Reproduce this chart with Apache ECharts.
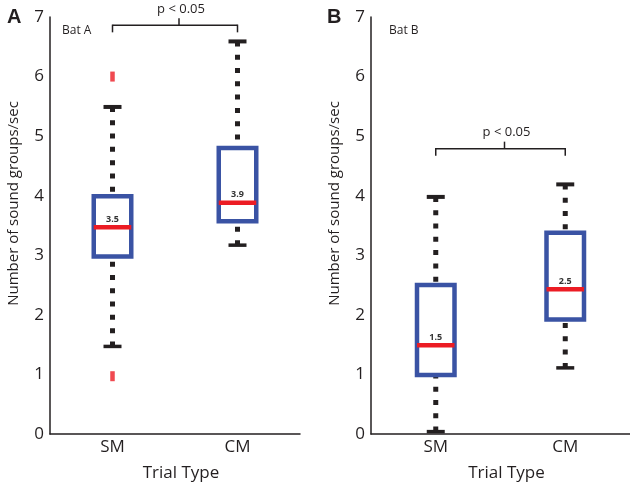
<!DOCTYPE html>
<html><head><meta charset="utf-8">
<script src="https://cdn.jsdelivr.net/npm/echarts@6/dist/echarts.min.js"></script>
<style>html,body{margin:0;padding:0;background:#fff}#c{width:630px;height:485px}</style>
</head><body><div id="c"></div>
<script>
// ---- data ----
const categories = ['SM', 'CM'];
const yMin = 0, yMax = 7, yStep = 1;
// Bat A
const batA_low = [1.47, 3.17];
const batA_q1 = [2.98, 3.57];
const batA_median = [3.47, 3.88];
const batA_q3 = [3.99, 4.80];
const batA_high = [5.49, 6.59];
const batA_medianLabels = ['3.5', '3.9'];
const batA_outlierCat = [0, 0];
const batA_outlierVal = [6.0, 0.97];
const batA_sig = [0, 1, 6.86];
// Bat B
const batB_low = [0.04, 1.11];
const batB_q1 = [0.99, 1.92];
const batB_median = [1.49, 2.43];
const batB_q3 = [2.50, 3.38];
const batB_high = [3.98, 4.19];
const batB_medianLabels = ['1.5', '2.5'];
const batB_sig = [0, 1, 4.79];
const sigLabel = 'p < 0.05';
const panelLabels = ['A', 'B'];
const batNames = ['Bat A', 'Bat B'];
const yName = 'Number of sound groups/sec';
const xName = 'Trial Type';

// ---- styles ----
const INK = '#231f20';
const BLUE = '#3a53a4';
const RED = '#ec1c24';
const FONT = 'Open Sans';

function boxRender(labels) {
  return function (params, api) {
    const x = api.value(0);
    const pLow = api.coord([x, api.value(1)]);
    const pQ1 = api.coord([x, api.value(2)]);
    const pMed = api.coord([x, api.value(3)]);
    const pQ3 = api.coord([x, api.value(4)]);
    const pHigh = api.coord([x, api.value(5)]);
    const cx = pMed[0];
    const boxW = 37.5, capW = 18;
    const dash = { stroke: INK, lineWidth: 5, lineDash: [5, 8.3], lineCap: 'butt' };
    return {
      type: 'group',
      children: [
        { type: 'line', shape: { x1: cx, y1: pHigh[1], x2: cx, y2: pQ3[1] }, style: dash },
        { type: 'line', shape: { x1: cx, y1: pLow[1], x2: cx, y2: pQ1[1] }, style: dash },
        { type: 'line', shape: { x1: cx - capW / 2, y1: pHigh[1], x2: cx + capW / 2, y2: pHigh[1] }, style: { stroke: INK, lineWidth: 4 } },
        { type: 'line', shape: { x1: cx - capW / 2, y1: pLow[1], x2: cx + capW / 2, y2: pLow[1] }, style: { stroke: INK, lineWidth: 3.5 } },
        { type: 'rect', shape: { x: cx - boxW / 2, y: pQ3[1], width: boxW, height: pQ1[1] - pQ3[1] }, style: { fill: '#fff', stroke: BLUE, lineWidth: 4.5 } },
        { type: 'line', shape: { x1: cx - boxW / 2, y1: pMed[1], x2: cx + boxW / 2, y2: pMed[1] }, style: { stroke: RED, lineWidth: 4.5 } },
        { type: 'text', x: cx, y: pMed[1] - 8, style: { text: labels[params.dataIndex], fill: '#333', font: 'bold 9px "' + FONT + '"', align: 'center', verticalAlign: 'middle' } }
      ]
    };
  };
}

function sigRender(params, api) {
  const a = api.coord([api.value(0), api.value(2)]);
  const b = api.coord([api.value(1), api.value(2)]);
  const y = a[1];
  const mid = (a[0] + b[0]) / 2 + 4;
  const st = { stroke: INK, lineWidth: 1.5 };
  return {
    type: 'group',
    children: [
      { type: 'line', shape: { x1: a[0], y1: y, x2: b[0], y2: y }, style: st },
      { type: 'line', shape: { x1: a[0], y1: y - 0.75, x2: a[0], y2: y + 7 }, style: st },
      { type: 'line', shape: { x1: b[0], y1: y - 0.75, x2: b[0], y2: y + 7 }, style: st },
      { type: 'line', shape: { x1: mid, y1: y, x2: mid, y2: y - 7 }, style: st },
      { type: 'text', x: mid + 2, y: y - 16, style: { text: sigLabel, fill: INK, font: '13px "' + FONT + '"', align: 'center', verticalAlign: 'middle' } }
    ]
  };
}

function buildBox(low, q1, med, q3, high) {
  return categories.map((c, i) => [i, low[i], q1[i], med[i], q3[i], high[i]]);
}

function yAxis(idx) {
  return {
    type: 'value', gridIndex: idx, min: yMin, max: yMax, interval: yStep,
    name: yName, nameLocation: 'middle', nameGap: 29,
    nameTextStyle: { fontFamily: FONT, fontSize: 15, color: INK, padding: [0, 0, 0, 44] },
    axisLine: { show: true, lineStyle: { color: INK, width: 1.5 } },
    axisTick: { show: false }, splitLine: { show: false },
    axisLabel: { fontFamily: FONT, fontSize: 17, color: INK, margin: 6 }
  };
}
function xAxis(idx) {
  return {
    type: 'category', gridIndex: idx, data: categories, boundaryGap: true,
    name: xName, nameLocation: 'middle', nameGap: 31,
    nameTextStyle: { fontFamily: FONT, fontSize: 17, color: INK, padding: [0, 0, 0, 12] },
    axisLine: { show: true, lineStyle: { color: INK, width: 1.5 } },
    axisTick: { show: false }, splitLine: { show: false },
    axisLabel: { fontFamily: FONT, fontSize: 17, color: INK, margin: 5 }
  };
}

const chart = echarts.init(document.getElementById('c'), null, { renderer: 'canvas' });
chart.setOption({
  animation: false,
  backgroundColor: '#fff',
  title: [
    { text: panelLabels[0], left: 2, top: 2, textStyle: { fontFamily: 'Liberation Sans', fontWeight: 'bold', fontSize: 20, color: INK } },
    { text: panelLabels[1], left: 322, top: 2, textStyle: { fontFamily: 'Liberation Sans', fontWeight: 'bold', fontSize: 20, color: INK } },
    { text: batNames[0], left: 57, top: 20, textStyle: { fontFamily: FONT, fontWeight: 'normal', fontSize: 12, color: INK } },
    { text: batNames[1], left: 384, top: 20, textStyle: { fontFamily: FONT, fontWeight: 'normal', fontSize: 12, color: INK } }
  ],
  grid: [
    { left: 50, top: 17, width: 250, height: 417, containLabel: false, outerBoundsMode: 'none' },
    { left: 371, top: 17, width: 259, height: 417, containLabel: false, outerBoundsMode: 'none' }
  ],
  xAxis: [xAxis(0), xAxis(1)],
  yAxis: [yAxis(0), yAxis(1)],
  series: [
    { type: 'custom', xAxisIndex: 0, yAxisIndex: 0, renderItem: boxRender(batA_medianLabels),
      encode: { x: 0, y: [1, 2, 3, 4, 5] }, data: buildBox(batA_low, batA_q1, batA_median, batA_q3, batA_high), z: 2 },
    { type: 'custom', xAxisIndex: 1, yAxisIndex: 1, renderItem: boxRender(batB_medianLabels),
      encode: { x: 0, y: [1, 2, 3, 4, 5] }, data: buildBox(batB_low, batB_q1, batB_median, batB_q3, batB_high), z: 2 },
    { type: 'scatter', xAxisIndex: 0, yAxisIndex: 0, symbol: 'rect', symbolSize: [4.5, 10],
      itemStyle: { color: RED }, data: batA_outlierCat.map((c, i) => [c, batA_outlierVal[i]]), z: 3 },
    { type: 'custom', xAxisIndex: 0, yAxisIndex: 0, renderItem: sigRender, encode: { x: [0, 1], y: 2 }, data: [batA_sig], z: 3 },
    { type: 'custom', xAxisIndex: 1, yAxisIndex: 1, renderItem: sigRender, encode: { x: [0, 1], y: 2 }, data: [batB_sig], z: 3 }
  ]
});
</script>
</body></html>
